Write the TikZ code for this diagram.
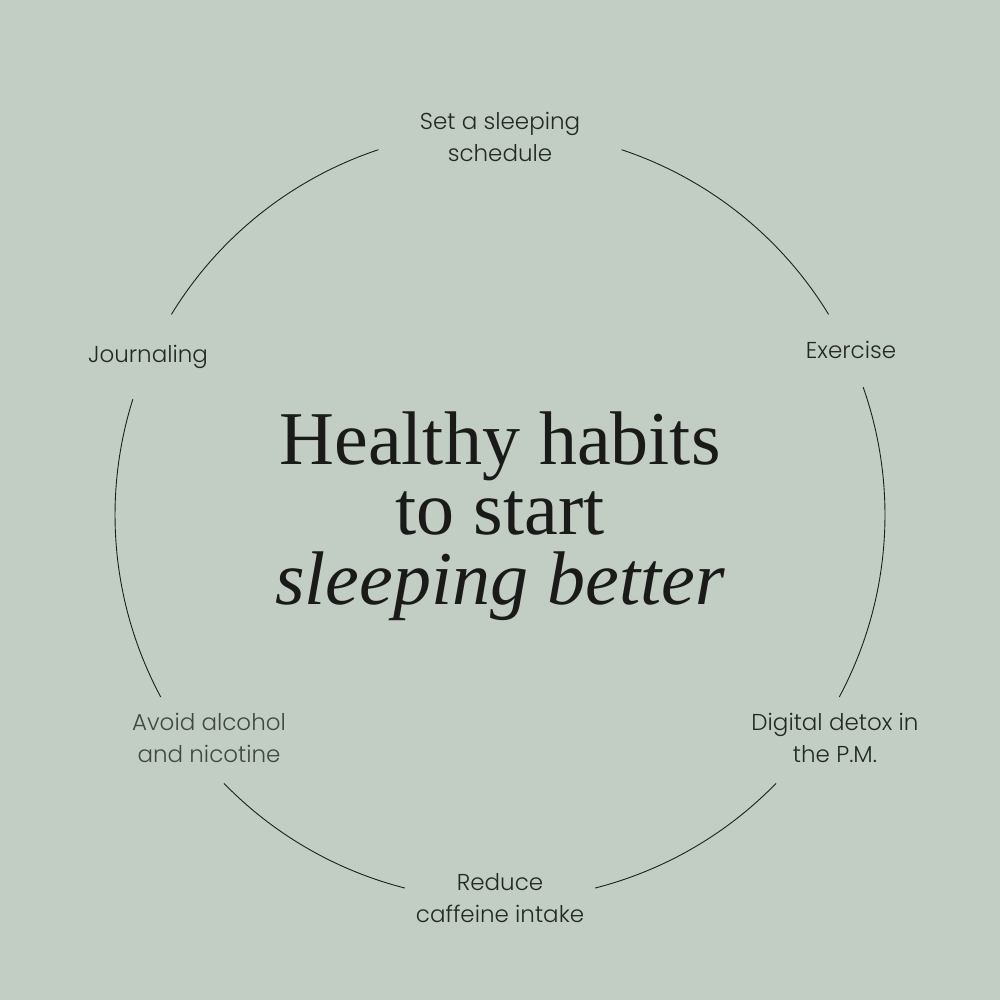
\documentclass[tikz,border=0pt]{standalone}
\usepackage{fontspec}
\IfFontExistsTF{Poppins Light}{\newfontfamily\labelfont{Poppins Light}}{\newfontfamily\labelfont{Poppins}}
\newfontfamily\titlefont{Liberation Serif}
\definecolor{bgsage}{RGB}{194,205,195}
\definecolor{inkdark}{RGB}{26,27,25}
\definecolor{labelink}{RGB}{36,40,36}
\definecolor{labelsoft}{RGB}{66,71,66}
\definecolor{ringink}{RGB}{30,32,30}
\begin{document}
\begin{tikzpicture}[x=1pt,y=1pt,
  habit/.style={font=\labelfont\fontsize{23}{32}\selectfont, text=labelink, align=center, inner sep=0pt},
  titleline/.style={font=\titlefont\fontsize{76}{70}\selectfont, text=inkdark, anchor=base, inner sep=0pt},
  ring/.style={draw=ringink, line width=0.9pt}]
\fill[bgsage] (0,0) rectangle (1000,1000);
\useasboundingbox (0,0) rectangle (1000,1000);
\coordinate (c) at (500,485);
% ring segments
\draw[ring] (c) ++(71.6:385) arc[start angle=71.6, end angle=31.4, radius=385];
\draw[ring] (c) ++(19.4:385) arc[start angle=19.4, end angle=-28.2, radius=385];
\draw[ring] (c) ++(-44.2:385) arc[start angle=-44.2, end angle=-75.7, radius=385];
\draw[ring] (c) ++(-104.3:385) arc[start angle=-104.3, end angle=-135.8, radius=385];
\draw[ring] (c) ++(-151.8:385) arc[start angle=-151.8, end angle=-197.5, radius=385];
\draw[ring] (c) ++(148.6:385) arc[start angle=148.6, end angle=108.4, radius=385];
% labels
\node[habit] (sched) at (500,863) {Set a sleeping\\schedule};
\node[habit] (exer) at (851,650) {Exercise};
\node[habit] (detox) at (835,262) {Digital detox in\\the P.M.};
\node[habit] (caff) at (500,102) {Reduce\\caffeine intake};
\node[habit, text=labelsoft] (avoid) at (209,262) {Avoid alcohol\\and nicotine};
\node[habit] (journ) at (148,643) {Journaling};
% title
\node[titleline] (t1) at (500,535) {Healthy habits};
\node[titleline] (t2) at (500,465) {to start};
\node[titleline] (t3) at (500,395) {\itshape sleeping better};
\end{tikzpicture}
\end{document}
